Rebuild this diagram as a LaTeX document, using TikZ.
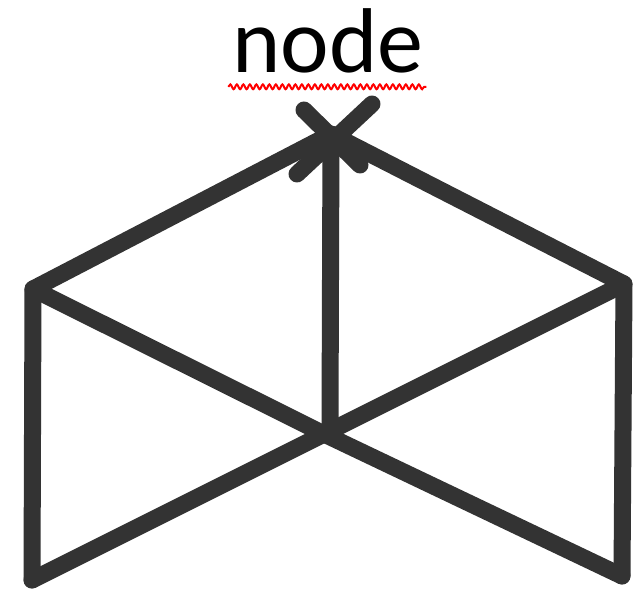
\documentclass[tikz,border=0pt]{standalone}
\usepackage{fontspec}
\setmainfont{Carlito}
\usetikzlibrary{decorations.pathmorphing}
\definecolor{ink}{HTML}{333333}
\begin{document}
\begin{tikzpicture}[x=1pt,y=-1pt]
\tikzstyle{stroke}=[draw,ink,line width=17pt,line cap=round,line join=round]
\tikzstyle{squiggle}=[draw,red,line width=2pt,decorate,decoration={snake,segment length=6.5pt,amplitude=2.4pt}]
\useasboundingbox(0,0)rectangle(641,593);
\node[anchor=base,inner sep=0pt,font=\fontsize{92}{100}\selectfont](label)at(328,73){node};
\coordinate(apex)at(331,134);
\coordinate(ltop)at(33,289);
\coordinate(rtop)at(624,284);
\coordinate(lbot)at(32,580);
\coordinate(rbot)at(622,576);
\coordinate(mid)at(324,434);
\coordinate(stem)at(330,425);
\coordinate(xa)at(304,110);
\coordinate(xb)at(360,165);
\coordinate(xc)at(372,104);
\coordinate(xd)at(297,174);
\path[squiggle](label.south west)++(-4,13)--++(198,0);
\path[stroke](lbot)--(ltop)--(apex)--(rtop)--(rbot);
\path[stroke](apex)--(stem);
\path[stroke](ltop)--(mid)--(rbot);
\path[stroke](rtop)--(mid)--(lbot);
\path[stroke](xa)--(xb);
\path[stroke](xc)--(xd);
\end{tikzpicture}
\end{document}
